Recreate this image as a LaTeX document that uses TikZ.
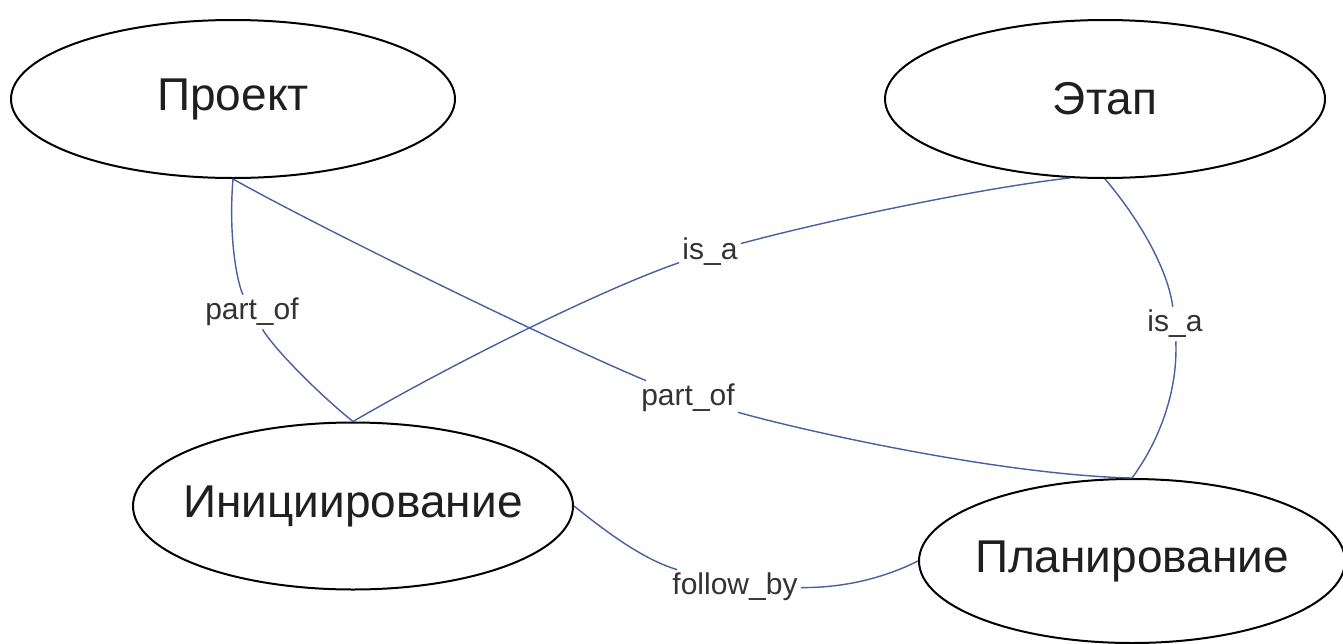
\documentclass[tikz,border=0pt]{standalone}
\usepackage{fontspec}
\setmainfont{Liberation Sans}
\usetikzlibrary{shapes.geometric}
\definecolor{conncol}{RGB}{72,96,158}
\tikzset{
  ent/.style={ellipse, draw=black, line width=1pt, inner xsep=-40pt, inner ysep=0pt,
    font=\fontsize{23}{27}\selectfont, text=black!88},
  lbl/.style={inner sep=1.5pt, font=\fontsize{15}{18}\selectfont, text=black!80},
  link/.style={draw=conncol, line width=0.7pt}
}
\begin{document}
\begin{tikzpicture}[x=0.5pt,y=-0.5pt]
\useasboundingbox (0,0) rectangle (1343,643);
\fill[white] (0,0) rectangle (1343,643);

\node[ent, minimum width=222pt, minimum height=79pt] (proj) at (233,99) {Проект};
\node[ent, minimum width=220pt, minimum height=79pt] (etap) at (1105,99) {Этап};
\node[ent, minimum width=220pt, minimum height=83.5pt] (init) at (353,506) {Инициирование};
\node[ent, minimum width=213pt, minimum height=82pt] (plan) at (1132,561) {Планирование};

\node[lbl] (l1) at (252,312) {part\_of};
\node[lbl] (l2) at (688,398) {part\_of};
\node[lbl] (l3) at (710,252) {is\_a};
\node[lbl] (l4) at (1175,324) {is\_a};
\node[lbl] (l5) at (735,587) {follow\_by};

% Проект -> Инициирование
\draw[link] (proj.south) .. controls (228,240) and (238,285) .. (l1);
\draw[link] (l1) .. controls (275,350) and (320,395) .. (init.north);
% Проект -> Планирование
\draw[link] (proj.south) .. controls (320,228) and (560,345) .. (l2);
\draw[link] (l2) .. controls (800,430) and (1000,475) .. (plan.north);
% Инициирование -> Этап
\draw[link] (init.north) .. controls (450,365) and (600,290) .. (l3);
\draw[link] (l3) .. controls (820,222) and (980,188) .. (etap.246);
% Этап -> Планирование
\draw[link] (etap.south) .. controls (1140,220) and (1168,270) .. (l4);
\draw[link] (l4) .. controls (1178,390) and (1160,440) .. (plan.north);
% Инициирование -> Планирование
\draw[link] (init.east) .. controls (610,535) and (645,560) .. (l5);
\draw[link] (l5) .. controls (850,588) and (890,575) .. (plan.west);
\end{tikzpicture}
\end{document}
